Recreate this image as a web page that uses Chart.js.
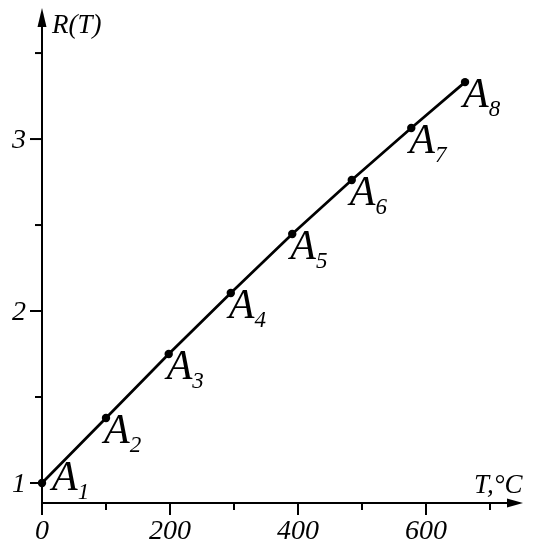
<!DOCTYPE html>
<html><head><meta charset="utf-8">
<script src="https://cdn.jsdelivr.net/npm/chart.js@4"></script>
<style>html,body{margin:0;padding:0;background:#fff}canvas{display:block}</style>
</head><body>
<canvas id="c" width="535" height="550"></canvas>
<script>
const temperatures = [0, 100, 198, 295, 391, 484, 577, 661];
const resistances = [1, 1.378, 1.75, 2.105, 2.448, 2.762, 3.064, 3.331];
const pointNames = ['1', '2', '3', '4', '5', '6', '7', '8'];
const xTickValues = [0, 100, 200, 300, 400, 500, 600, 700];
const xTickLabels = ['0', '', '200', '', '400', '', '600', ''];
const yTickValues = [1, 1.5, 2, 2.5, 3, 3.5];
const yTickLabels = ['1', '', '2', '', '3', ''];
const xAxisTitle = 'T,°C';
const yAxisTitle = 'R(T)';

const SERIF = '"Liberation Serif", "Times New Roman", serif';

const axesPlugin = {
  id: 'axesPlugin',
  beforeDatasetsDraw(chart) {
    const ctx = chart.ctx;
    const xs = chart.scales.x, ys = chart.scales.y;
    const ca = chart.chartArea;
    const x0 = xs.getPixelForValue(0);
    const yb = ca.bottom;
    ctx.save();
    ctx.strokeStyle = '#000';
    ctx.fillStyle = '#000';
    ctx.lineWidth = 2;
    // y axis
    ctx.beginPath();
    ctx.moveTo(x0, yb);
    ctx.lineTo(x0, ca.top + 17);
    ctx.stroke();
    ctx.beginPath();
    ctx.moveTo(x0, ca.top);
    ctx.lineTo(x0 - 4.5, ca.top + 19);
    ctx.lineTo(x0 + 4.5, ca.top + 19);
    ctx.closePath();
    ctx.fill();
    // x axis
    ctx.beginPath();
    ctx.moveTo(x0, yb);
    ctx.lineTo(ca.right - 14, yb);
    ctx.stroke();
    ctx.beginPath();
    ctx.moveTo(ca.right - 2, yb);
    ctx.lineTo(ca.right - 18, yb - 4.5);
    ctx.lineTo(ca.right - 18, yb + 4.5);
    ctx.closePath();
    ctx.fill();
    // x ticks
    ctx.font = 'italic 28px ' + SERIF;
    ctx.textAlign = 'center';
    ctx.textBaseline = 'alphabetic';
    xTickValues.forEach((v, i) => {
      const px = xs.getPixelForValue(v);
      const major = xTickLabels[i] !== '';
      ctx.beginPath();
      ctx.moveTo(px, yb);
      ctx.lineTo(px, yb + (major ? 12 : 7));
      ctx.stroke();
      if (major) ctx.fillText(xTickLabels[i], px, yb + 36);
    });
    // y ticks
    yTickValues.forEach((v, i) => {
      const py = ys.getPixelForValue(v);
      const major = yTickLabels[i] !== '';
      ctx.beginPath();
      ctx.moveTo(x0, py);
      ctx.lineTo(x0 - (major ? 12 : 7), py);
      ctx.stroke();
      if (major) ctx.fillText(yTickLabels[i], x0 - 23, py + 9);
    });
    // titles
    ctx.font = 'italic 27px ' + SERIF;
    ctx.textAlign = 'left';
    ctx.fillText(yAxisTitle, x0 + 10, ca.top + 25);
    ctx.fillText(xAxisTitle, ca.right - 51, yb - 10);
    ctx.restore();
  },
  afterDatasetsDraw(chart) {
    const ctx = chart.ctx;
    const xs = chart.scales.x, ys = chart.scales.y;
    ctx.save();
    ctx.fillStyle = '#000';
    ctx.textBaseline = 'alphabetic';
    ctx.textAlign = 'left';
    temperatures.forEach((t, i) => {
      const px = xs.getPixelForValue(t);
      const py = ys.getPixelForValue(resistances[i]);
      const dx = i === 0 ? 10 : -2;
      const dy = i === 0 ? 7 : 25;
      ctx.font = 'italic 42px ' + SERIF;
      ctx.fillText('A', px + dx, py + dy);
      const w = ctx.measureText('A').width;
      ctx.font = 'italic 23px ' + SERIF;
      ctx.fillText(pointNames[i], px + dx + w, py + dy + 9);
    });
    ctx.restore();
  }
};

new Chart(document.getElementById('c'), {
  type: 'scatter',
  data: {
    datasets: [{
      data: temperatures.map((t, i) => ({ x: t, y: resistances[i] })),
      showLine: true,
      borderColor: '#000',
      backgroundColor: '#000',
      borderWidth: 2.7,
      pointRadius: 4.2,
      pointBackgroundColor: '#000',
      pointBorderWidth: 0,
      clip: false
    }]
  },
  options: {
    responsive: false,
    animation: false,
    devicePixelRatio: 1,
    layout: { padding: { left: 42, right: 10, top: 8, bottom: 47 } },
    plugins: { legend: { display: false }, tooltip: { enabled: false } },
    scales: {
      x: { type: 'linear', display: false, min: 0, max: 754.7 },
      y: { type: 'linear', display: false, min: 0.8837, max: 3.762 }
    }
  },
  plugins: [axesPlugin]
});
</script>
</body></html>
